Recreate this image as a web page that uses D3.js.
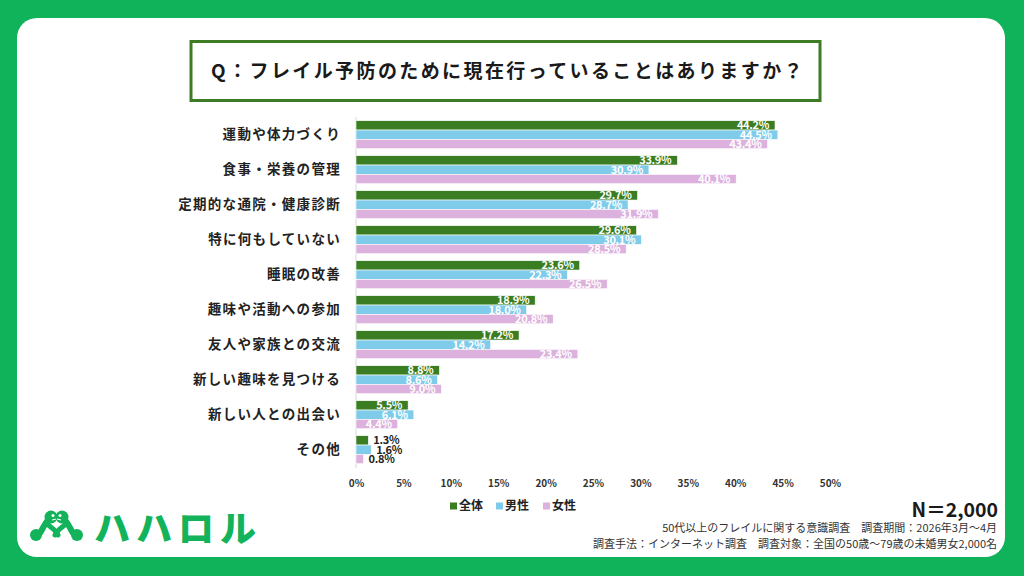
<!DOCTYPE html>
<html>
<head>
<meta charset="utf-8">
<script src="https://cdn.jsdelivr.net/npm/d3@7"></script>
<style>
  html, body { margin: 0; padding: 0; background: #10b25a; }
  svg { display: block; font-family: "Noto Sans CJK JP", "Noto Sans", sans-serif; }
</style>
</head>
<body>
<svg id="chart" width="1024" height="576"></svg>
<script>
// 回答項目
var categories = [
    "運動や体力づくり",
    "食事・栄養の管理",
    "定期的な通院・健康診断",
    "特に何もしていない",
    "睡眠の改善",
    "趣味や活動への参加",
    "友人や家族との交流",
    "新しい趣味を見つける",
    "新しい人との出会い",
    "その他"
];
var seriesNames = ["全体", "男性", "女性"];
var seriesColors = ["#3b7d23", "#7fcbea", "#dcb1dd"];
var totalValues = [44.2, 33.9, 29.7, 29.6, 23.6, 18.9, 17.2, 8.8, 5.5, 1.3];
var maleValues = [44.5, 30.9, 28.7, 30.1, 22.3, 18.0, 14.2, 8.6, 6.1, 1.6];
var femaleValues = [43.4, 40.1, 31.9, 28.5, 26.5, 20.8, 23.4, 9.0, 4.4, 0.8];
var xTicks = [0, 5, 10, 15, 20, 25, 30, 35, 40, 45, 50];

var title = "Q：フレイル予防のために現在行っていることはありますか？";
var sampleText = "N＝2,000";
var notes = [
    "50代以上のフレイルに関する意識調査　調査期間：2026年3月～4月",
    "調査手法：インターネット調査　調査対象：全国の50歳～79歳の未婚男女2,000名"
];

var series = [totalValues, maleValues, femaleValues];

var svg = d3.select('#chart');

// 背景カード
svg.append('rect').attr('width', 1024).attr('height', 576).attr('fill', '#10b25a');
svg.append('rect')
    .attr('x', 17).attr('y', 18).attr('width', 988).attr('height', 539)
    .attr('rx', 20).attr('fill', '#ffffff');

// タイトル
svg.append('rect')
    .attr('x', 191).attr('y', 41.5).attr('width', 629).attr('height', 59)
    .attr('fill', '#fff').attr('stroke', '#3d7b24').attr('stroke-width', 3);
svg.append('text')
    .attr('x', 508).attr('y', 78)
    .attr('text-anchor', 'middle')
    .attr('font-size', 19).attr('font-weight', 700)
    .attr('letter-spacing', 2.4)
    .attr('fill', '#1a1a1a')
    .text(title);

// スケール
var x = d3.scaleLinear().domain([0, 50]).range([356, 830]);
var y = d3.scaleBand().domain(categories).range([117.2, 467.2])
    .paddingInner(0.2).paddingOuter(0.1);
var ySub = d3.scaleBand().domain(d3.range(seriesNames.length)).range([0, y.bandwidth()]);

// 軸線
svg.append('line')
    .attr('x1', x(0)).attr('x2', x(0))
    .attr('y1', 117).attr('y2', 468)
    .attr('stroke', '#d9d9d9').attr('stroke-width', 1);

// x軸ラベル
var xAxis = d3.axisBottom(x).tickValues(xTicks).tickSize(0).tickPadding(0)
    .tickFormat(function (d) { return d + '%'; });
var gx = svg.append('g').attr('transform', 'translate(0,487)').call(xAxis);
gx.select('.domain').remove();
gx.selectAll('text')
    .attr('dy', 0)
    .attr('font-family', '"Noto Sans CJK JP", sans-serif')
    .attr('font-size', 10).attr('font-weight', 700).attr('fill', '#333');

// 項目ラベル
var yAxis = d3.axisLeft(y).tickSize(0).tickPadding(0);
var gy = svg.append('g').attr('transform', 'translate(341,0)').call(yAxis);
gy.select('.domain').remove();
gy.selectAll('text')
    .attr('font-family', '"Noto Sans CJK JP", sans-serif')
    .attr('font-size', 13.5).attr('font-weight', 700)
    .attr('letter-spacing', 1.3)
    .attr('fill', '#222');

// 棒
var group = svg.selectAll('.bar-group')
    .data(categories)
    .enter()
    .append('g')
    .attr('class', 'bar-group')
    .attr('transform', function (d) { return 'translate(0,' + y(d) + ')'; });

group.each(function (cat, i) {
    var g = d3.select(this);
    var rows = series.map(function (vals, s) { return { s: s, v: vals[i] }; });

    g.selectAll('rect')
        .data(rows)
        .enter()
        .append('rect')
        .attr('x', x(0))
        .attr('y', function (d) { return ySub(d.s); })
        .attr('width', function (d) { return x(d.v) - x(0); })
        .attr('height', ySub.bandwidth())
        .attr('fill', function (d) { return seriesColors[d.s]; })
        .attr('stroke', '#fff').attr('stroke-width', 0.6);

    // 値ラベル（小さい値は棒の外側）
    g.selectAll('text')
        .data(rows)
        .enter()
        .append('text')
        .attr('x', function (d) { return d.v < 2 ? x(d.v) + 5 : x(d.v) - 6; })
        .attr('y', function (d) { return ySub(d.s) + ySub.bandwidth() / 2; })
        .attr('dy', '0.36em')
        .attr('text-anchor', function (d) { return d.v < 2 ? 'start' : 'end'; })
        .attr('font-size', 11).attr('font-weight', 700)
        .attr('letter-spacing', -0.3)
        .attr('fill', function (d) { return d.v < 2 ? '#222' : '#fff'; })
        .text(function (d) { return d.v.toFixed(1) + '%'; });
});

// 凡例
var legendX = [450, 496, 543];
var legend = svg.selectAll('.legend')
    .data(seriesNames)
    .enter()
    .append('g')
    .attr('class', 'legend')
    .attr('transform', function (d, i) { return 'translate(' + legendX[i] + ',506)'; });
legend.append('rect')
    .attr('x', 0).attr('y', -3.5).attr('width', 7).attr('height', 7)
    .attr('fill', function (d, i) { return seriesColors[i]; });
legend.append('text')
    .attr('x', 9).attr('dy', '0.36em')
    .attr('font-size', 12).attr('font-weight', 700).attr('fill', '#222')
    .text(function (d) { return d; });

// N数・注記
svg.append('text')
    .attr('x', 998).attr('y', 517)
    .attr('text-anchor', 'end')
    .attr('font-size', 19.5).attr('font-weight', 700).attr('fill', '#1a1a1a')
    .text(sampleText);
svg.selectAll('.note')
    .data(notes)
    .enter()
    .append('text')
    .attr('class', 'note')
    .attr('x', 997)
    .attr('y', function (d, i) { return 532 + i * 16; })
    .attr('text-anchor', 'end')
    .attr('font-size', 11).attr('fill', '#333')
    .text(function (d) { return d; });

// ロゴ
var logo = svg.append('g').attr('class', 'logo').attr('fill', '#12b35a').attr('stroke', '#12b35a');
function creature(mirror) {
    var c = logo.append('g').attr('transform', mirror ? 'translate(113,0) scale(-1,1)' : null);
    c.append('path')
        .attr('d', 'M50,518 C45,522 44,527 40,533')
        .attr('fill', 'none').attr('stroke-width', 6).attr('stroke-linecap', 'round');
    c.append('path')
        .attr('d', 'M47,524 C52,528 56,530 58,535')
        .attr('fill', 'none').attr('stroke-width', 5).attr('stroke-linecap', 'round');
    c.append('circle').attr('cx', 51).attr('cy', 517).attr('r', 6.5).attr('stroke', 'none');
    c.append('circle').attr('cx', 36).attr('cy', 535).attr('r', 6).attr('stroke', 'none');
    c.append('circle').attr('cx', 53).attr('cy', 515.5).attr('r', 1.5).attr('fill', '#fff').attr('stroke', 'none');
    c.append('path')
        .attr('d', 'M52,520 L56,519')
        .attr('stroke', '#fff').attr('stroke-width', 1.2).attr('fill', 'none');
}
creature(false);
creature(true);
svg.append('text')
    .attr('x', 94).attr('y', 542)
    .attr('font-size', 36).attr('font-weight', 900)
    .attr('letter-spacing', 6)
    .attr('fill', '#12b35a')
    .text('ハハロル');
</script>
</body>
</html>
